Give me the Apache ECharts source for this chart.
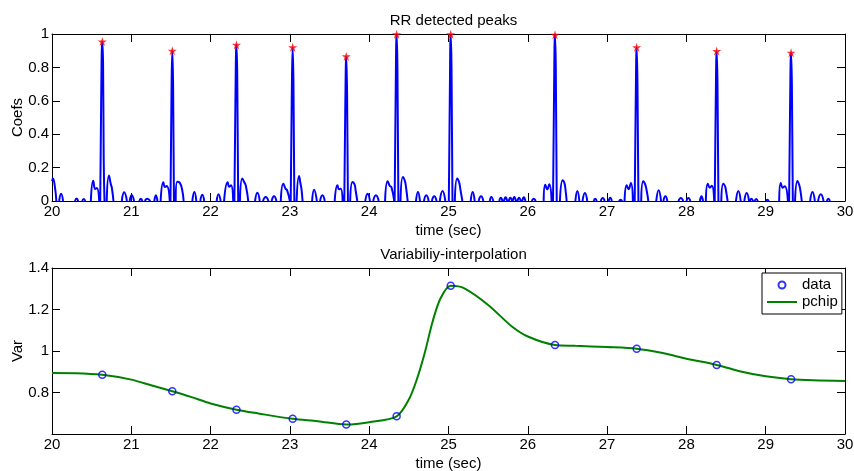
<!DOCTYPE html>
<html><head><meta charset="utf-8">
<script src="https://cdn.jsdelivr.net/npm/echarts/dist/echarts.min.js"></script>
<style>html,body{margin:0;padding:0;background:#fff}#c{width:854px;height:471px}</style>
</head><body><div id="c"></div>
<script>
// ---- data ----
const coefSegments = [
 [[20.0,0.12],[20.012,0.135],[20.035,0.09],[20.055,0]],
 [[20.09,0],[20.115,0.044],[20.14,0]],
 [[20.29,0],[20.31,0.015],[20.33,0]],
 [[20.38,0],[20.4,0.012],[20.42,0]],
 [[20.49,0],[20.52,0.122],[20.545,0.072],[20.565,0.078],[20.595,0]],
 [[20.608,0],[20.62,0.6],[20.634,0.955],[20.644,0.82],[20.652,0.25],[20.662,0]],
 [[20.69,0],[20.718,0.152],[20.742,0.1],[20.755,0.078],[20.775,0]],
 [[20.88,0],[20.91,0.052],[20.945,0]],
 [[20.98,0],[21.005,0.036],[21.035,0]],
 [[21.1,0],[21.12,0.014],[21.14,0]],
 [[21.17,0],[21.2,0.014],[21.24,0]],
 [[21.29,0],[21.31,0.034],[21.33,0]],
 [[21.37,0],[21.404,0.112],[21.425,0.084],[21.447,0.09],[21.485,0]],
 [[21.494,0],[21.506,0.6],[21.517,0.9],[21.527,0.7],[21.538,0]],
 [[21.56,0],[21.58,0.116],[21.61,0.11],[21.64,0.07],[21.66,0]],
 [[21.77,0],[21.795,0.054],[21.82,0]],
 [[21.87,0],[21.895,0.038],[21.92,0]],
 [[22.077,0],[22.1,0.04],[22.127,0]],
 [[22.17,0],[22.215,0.112],[22.235,0.085],[22.257,0.094],[22.285,0]],
 [[22.3,0],[22.313,0.6],[22.326,0.935],[22.336,0.75],[22.348,0]],
 [[22.37,0],[22.4,0.134],[22.425,0.112],[22.445,0.09],[22.475,0]],
 [[22.56,0],[22.59,0.05],[22.62,0]],
 [[22.66,0],[22.695,0.024],[22.73,0]],
 [[22.77,0],[22.8,0.028],[22.83,0]],
 [[22.885,0],[22.917,0.104],[22.945,0.074],[22.965,0.064],[23.0,0]],
 [[23.01,0],[23.023,0.6],[23.035,0.92],[23.045,0.7],[23.056,0]],
 [[23.085,0],[23.115,0.15],[23.135,0.1],[23.145,0.075],[23.16,0]],
 [[23.28,0],[23.305,0.068],[23.34,0]],
 [[23.38,0],[23.41,0.034],[23.44,0]],
 [[23.565,0],[23.6,0.095],[23.62,0.07],[23.64,0.074],[23.665,0]],
 [[23.686,0],[23.698,0.55],[23.711,0.866],[23.721,0.65],[23.732,0]],
 [[23.76,0],[23.79,0.114],[23.815,0.1],[23.83,0.06],[23.85,0]],
 [[23.95,0],[23.98,0.044],[24.01,0]],
 [[24.05,0],[24.085,0.034],[24.12,0]],
 [[24.2,0],[24.233,0.118],[24.26,0.09],[24.28,0.084],[24.315,0]],
 [[24.321,0],[24.333,0.6],[24.346,0.998],[24.356,0.8],[24.368,0]],
 [[24.395,0],[24.425,0.144],[24.45,0.12],[24.465,0.08],[24.485,0]],
 [[24.59,0],[24.615,0.054],[24.64,0]],
 [[24.69,0],[24.72,0.034],[24.75,0]],
 [[24.79,0],[24.82,0.028],[24.85,0]],
 [[24.89,0],[24.925,0.06],[24.96,0]],
 [[25.004,0],[25.016,0.6],[25.028,0.998],[25.038,0.8],[25.05,0]],
 [[25.08,0],[25.11,0.134],[25.135,0.11],[25.15,0.07],[25.175,0]],
 [[25.28,0],[25.305,0.054],[25.33,0]],
 [[25.38,0],[25.41,0.028],[25.44,0]],
 [[25.52,0],[25.54,0.024],[25.565,0]],
 [[25.64,0],[25.66,0.02],[25.68,0]],
 [[25.7,0],[25.72,0.022],[25.74,0]],
 [[25.76,0],[25.78,0.02],[25.8,0]],
 [[25.81,0],[25.83,0.024],[25.85,0]],
 [[25.87,0],[25.89,0.02],[25.91,0]],
 [[25.93,0],[25.95,0.022],[25.97,0]],
 [[26.05,0],[26.075,0.014],[26.1,0]],
 [[26.2,0],[26.22,0.098],[26.245,0.07],[26.27,0.1],[26.3,0]],
 [[26.318,0],[26.33,0.6],[26.343,0.995],[26.353,0.8],[26.365,0]],
 [[26.405,0],[26.44,0.124],[26.46,0.11],[26.475,0.07],[26.49,0]],
 [[26.6,0],[26.625,0.06],[26.65,0]],
 [[26.69,0],[26.72,0.048],[26.75,0]],
 [[26.83,0],[26.85,0.014],[26.87,0]],
 [[26.92,0],[26.945,0.018],[26.97,0]],
 [[27.02,0],[27.04,0.02],[27.06,0]],
 [[27.15,0],[27.17,0.008],[27.19,0]],
 [[27.22,0],[27.247,0.094],[27.27,0.07],[27.3,0.108],[27.325,0]],
 [[27.348,0],[27.36,0.55],[27.373,0.92],[27.383,0.7],[27.395,0]],
 [[27.43,0],[27.455,0.118],[27.48,0.1],[27.5,0.06],[27.52,0]],
 [[27.62,0],[27.65,0.064],[27.68,0]],
 [[27.71,0],[27.735,0.028],[27.76,0]],
 [[27.9,0],[27.93,0.018],[27.96,0]],
 [[28.0,0],[28.025,0.018],[28.05,0]],
 [[28.17,0],[28.19,0.028],[28.21,0]],
 [[28.245,0],[28.27,0.104],[28.295,0.08],[28.32,0.092],[28.35,0]],
 [[28.357,0],[28.369,0.55],[28.382,0.898],[28.392,0.7],[28.404,0]],
 [[28.44,0],[28.465,0.104],[28.49,0.085],[28.5,0.06],[28.52,0]],
 [[28.625,0],[28.655,0.06],[28.685,0]],
 [[28.73,0],[28.76,0.048],[28.79,0]],
 [[28.8,0],[28.82,0.014],[28.84,0]],
 [[28.86,0],[28.88,0.012],[28.9,0]],
 [[29.0,0],[29.02,0.008],[29.04,0]],
 [[29.17,0],[29.19,0.108],[29.215,0.08],[29.24,0.088],[29.28,0]],
 [[29.295,0],[29.307,0.55],[29.32,0.888],[29.33,0.7],[29.342,0]],
 [[29.37,0],[29.4,0.12],[29.42,0.1],[29.435,0.07],[29.455,0]],
 [[29.56,0],[29.59,0.054],[29.62,0]],
 [[29.66,0],[29.695,0.04],[29.73,0]],
 [[29.77,0],[29.79,0.014],[29.81,0]]
];
const peakT = [20.634, 21.517, 22.326, 23.035, 23.711, 24.346, 25.028, 26.343, 27.373, 28.382, 29.32];
const peakV = [0.955, 0.9, 0.935, 0.92, 0.866, 0.998, 0.998, 0.995, 0.92, 0.898, 0.888];
const rrT = [20.634, 21.517, 22.326, 23.035, 23.711, 24.346, 25.028, 26.343, 27.373, 28.382, 29.32];
const rrV = [0.885, 0.806, 0.717, 0.673, 0.646, 0.685, 1.314, 1.029, 1.011, 0.933, 0.864];
const pchipT = [20, 20.3, 20.634, 21, 21.25, 21.517, 21.75, 22, 22.326, 22.6, 23.035, 23.35, 23.711, 24, 24.346, 24.5, 24.6, 24.7, 24.8, 24.9, 25.028, 25.2, 25.5, 25.8, 26, 26.343, 26.6, 27, 27.373, 27.7, 28, 28.382, 28.7, 29, 29.32, 29.6, 30];
const pchipV = [0.894, 0.893, 0.885, 0.862, 0.835, 0.806, 0.779, 0.747, 0.717, 0.699, 0.673, 0.662, 0.646, 0.657, 0.685, 0.766, 0.862, 0.99, 1.142, 1.254, 1.314, 1.302, 1.222, 1.118, 1.07, 1.029, 1.025, 1.019, 1.011, 0.99, 0.963, 0.933, 0.9, 0.878, 0.864, 0.859, 0.856];
const xTicks = {min: 20, max: 30, interval: 1};
const titles = ['RR detected peaks', 'Variabiliy-interpolation'];
const legendNames = ['data', 'pchip'];

// ---- build ----
const coefData = [];
coefSegments.forEach(seg => { seg.forEach(p => coefData.push(p)); coefData.push(['-', '-']); });
const zip = (a, b) => a.map((v, i) => [v, b[i]]);

const FONT = '"Liberation Sans", Arial, Helvetica, sans-serif';
const txt = {color: '#000', fontSize: 15, fontFamily: FONT};

function xAx(g, pos, name) {
  return {
    gridIndex: g, type: 'value', min: xTicks.min, max: xTicks.max, interval: xTicks.interval, position: pos,
    axisLine: {onZero: false, lineStyle: {color: '#000', width: 1}},
    axisTick: {inside: true, length: 8, lineStyle: {color: '#000', width: 1}},
    axisLabel: Object.assign({show: !!name, margin: 3}, txt),
    splitLine: {show: false},
    name: name || '', nameLocation: 'middle', nameGap: 22, nameTextStyle: txt
  };
}
function yAx(g, pos, min, max, name, hideMin) {
  return {
    gridIndex: g, type: 'value', min: min, max: max, interval: 0.2, position: pos,
    axisLine: {onZero: false, lineStyle: {color: '#000', width: 1}},
    axisTick: {inside: true, length: 8, lineStyle: {color: '#000', width: 1}},
    axisLabel: Object.assign({show: !!name, margin: 3, showMinLabel: !hideMin}, txt),
    splitLine: {show: false},
    name: name || '', nameLocation: 'middle', nameGap: 27, nameMoveOverlap: false, nameTextStyle: txt
  };
}

const chart = echarts.init(document.getElementById('c'), null, {renderer: 'canvas'});
chart.setOption({
  animation: false,
  backgroundColor: '#fff',
  textStyle: {fontFamily: FONT},
  title: [
    {text: titles[0], left: 448.5, top: 8, textAlign: 'center', textStyle: Object.assign({fontWeight: 'normal'}, txt)},
    {text: titles[1], left: 448.5, top: 242, textAlign: 'center', textStyle: Object.assign({fontWeight: 'normal'}, txt)}
  ],
  grid: [
    {left: 52, right: 9, top: 34, height: 167, containLabel: false, outerBoundsMode: 'none'},
    {left: 52, right: 9, top: 268, height: 166, containLabel: false, outerBoundsMode: 'none'}
  ],
  legend: {
    data: [
      {name: legendNames[0]},
      {name: legendNames[1], icon: 'path://M0,0 L30,0 L30,2 L0,2 Z'}
    ],
    orient: 'vertical', left: 762, top: 273,
    backgroundColor: '#fff', borderColor: '#000', borderWidth: 1, borderRadius: 0,
    padding: [4, 4, 4, 5], itemGap: 1, itemWidth: 30, itemHeight: 7,
    textStyle: Object.assign({lineHeight: 16}, txt)
  },
  xAxis: [xAx(0, 'bottom', 'time (sec)'), xAx(0, 'top'), xAx(1, 'bottom', 'time (sec)'), xAx(1, 'top')],
  yAxis: [yAx(0, 'left', 0, 1, 'Coefs'), yAx(0, 'right', 0, 1), yAx(1, 'left', 0.6, 1.4, 'Var', true), yAx(1, 'right', 0.6, 1.4)],
  series: [
    {type: 'line', xAxisIndex: 0, yAxisIndex: 0, data: coefData, smooth: 0.5, showSymbol: false, symbol: 'none',
     connectNulls: false, lineStyle: {color: '#0000ff', width: 2}, z: 2},
    {type: 'scatter', xAxisIndex: 0, yAxisIndex: 0, data: zip(peakT, peakV),
     symbol: 'path://M50,0 L61,35 L98,35 L68,57 L79,91 L50,70 L21,91 L32,57 L2,35 L39,35 Z',
     symbolSize: 9, itemStyle: {color: '#ff0000'}, z: 3},
    {name: legendNames[1], type: 'line', xAxisIndex: 2, yAxisIndex: 2, data: zip(pchipT, pchipV), smooth: 0.3,
     showSymbol: false, symbol: 'none', lineStyle: {color: '#008000', width: 2}, itemStyle: {color: '#008000'}, z: 2},
    {name: legendNames[0], type: 'scatter', xAxisIndex: 2, yAxisIndex: 2, data: zip(rrT, rrV), symbol: 'circle', symbolSize: 7,
     itemStyle: {color: 'rgba(0,0,0,0)', borderColor: '#0000ff', borderWidth: 1.5}, z: 4}
  ]
});
</script></body></html>
